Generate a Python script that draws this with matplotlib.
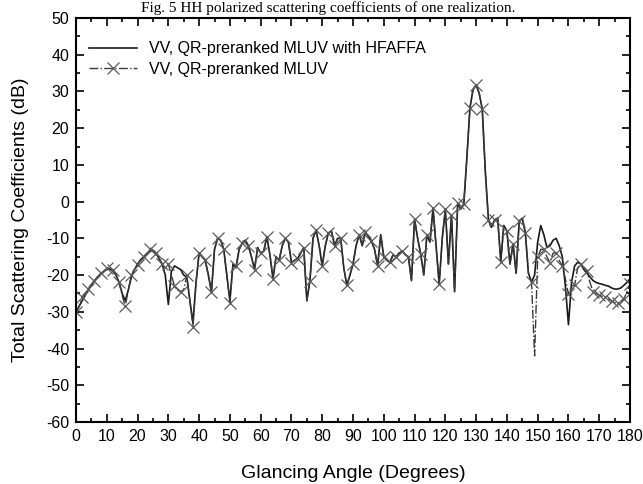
import numpy as np
import matplotlib
matplotlib.use('Agg')
import matplotlib.pyplot as plt
from matplotlib.ticker import MultipleLocator

plt.rcParams['font.family'] = ['Liberation Sans', 'DejaVu Sans']
plt.rcParams['axes.unicode_minus'] = False

# glancing angle, 1 degree steps
angle = np.arange(0, 181)

# VV, QR-preranked MLUV with HFAFFA (solid)
hfaffa = [-30, -28.5, -27, -25.5, -24, -22.7, -21.5, -20.5, -19.7, -19,
          -18.5, -18.3, -18.8, -20, -22, -25, -27, -24, -20.5, -18.5,
          -17, -15.8, -15, -14.2, -13.5, -13.3, -14, -15.5, -17, -20,
          -28, -19, -17.5, -18, -18.5, -20, -20.5, -27, -33, -22,
          -14, -15, -16, -20, -24.5, -13, -10, -10.5, -13, -20,
          -27, -17, -18, -13, -11.3, -10.5, -12, -15, -18.5, -12.5,
          -14, -13.5, -9.5, -14.5, -21, -15, -16, -12, -10, -11,
          -16.5, -16, -15.5, -14, -12.5, -27, -21.5, -10, -7.7, -12,
          -17.5, -12, -8.5, -8, -12, -10, -10, -18, -22.8, -20,
          -17, -12, -9, -12, -8.3, -9.5, -10.7, -13, -17.5, -9,
          -15, -16, -16.5, -14.5, -15, -14, -13.5, -14.5, -15, -21.5,
          -4.8, -10, -14.3, -20, -9, -11, -1.8, -12, -22.5, -10,
          -2, -17, -3.7, -24.5, -0.5, -2, -0.6, 12, 25.6, 30.5,
          31.8, 29.5, 25.2, 8, -5, -7, -5, -4.5, -16.3, -6.5,
          -8, -17, -11.5, -19.5, -5.3, -4.5, -8.6, -19.5, -21.9, -20,
          -11, -6.5, -9, -12.5, -12, -10.5, -10, -12, -15, -23,
          -33.5, -22, -17.5, -16.5, -17, -18.5, -19.5, -20.5, -21.5, -22,
          -22.3, -22.5, -22.8, -23, -23.5, -23.8, -23.8, -23.5, -22.8, -22,
          -21]

# VV, QR-preranked MLUV (dash-dot, markers every 2 degrees)
mluv = [-30, -28.5, -26, -25, -23.7, -22.5, -21.5, -20.5, -19.5, -19,
        -18, -18.3, -18.5, -20, -22, -25.5, -28.5, -24, -20, -18.5,
        -17.3, -16, -15.2, -14.2, -13, -13.3, -14, -15.5, -17, -18,
        -17, -20, -23, -24, -24.5, -24, -20, -27, -34, -22,
        -13.9, -15, -16, -20, -24.6, -13, -10, -10.5, -13, -20,
        -27.5, -17, -17.5, -13, -11.3, -10.5, -12, -15, -18.5, -12.5,
        -14, -13.5, -9.5, -14.5, -21, -15, -16, -12, -10, -11,
        -16.6, -16, -15.5, -14, -12.5, -27, -21.5, -10, -7.7, -12,
        -17.5, -12, -8.5, -8, -12, -10, -10, -18, -22.8, -20,
        -17, -12, -9, -12, -8.3, -9.5, -10.7, -13, -17.5, -9,
        -15, -16, -16.5, -14.5, -15, -14, -13.5, -14.5, -15, -21.5,
        -4.8, -10, -14.3, -20, -9, -11, -1.8, -12, -22.5, -10,
        -2, -17, -3.7, -24.5, -0.5, -2, -0.6, 12, 25.6, 30.5,
        31.8, 29.5, 25.2, 8, -5, -7, -5, -4.5, -16.3, -6.5,
        -8, -17, -11.5, -19.5, -5.3, -4.5, -8.6, -19.5, -21.9, -42,
        -15.2, -13, -13, -15, -16.6, -14, -14, -16, -17.5, -21,
        -25.2, -23, -22.7, -18, -17, -18, -18.9, -22, -24.6, -25,
        -25.5, -25.8, -26, -26.5, -27, -27.5, -27.7, -27.2, -26.6, -24.5,
        -22.5]

fig = plt.figure(figsize=(6.43, 4.84), dpi=100)
ax = fig.add_axes([0.1182, 0.1281, 0.8616, 0.8347])

ax.plot(angle, hfaffa, '-', color='#1a1a1a', lw=1.2,
        label='VV, QR-preranked MLUV with HFAFFA')
ax.plot(angle, mluv, '-.', color='#3a3a3a', lw=1.0, marker='x', markevery=2,
        markersize=8.5, markeredgewidth=0.9, markeredgecolor='#5a5a5a',
        label='VV, QR-preranked MLUV')

ax.set_xlim(0, 180)
ax.set_ylim(-60, 50)
ax.xaxis.set_major_locator(MultipleLocator(10))
ax.xaxis.set_minor_locator(MultipleLocator(5))
ax.yaxis.set_major_locator(MultipleLocator(10))
ax.yaxis.set_minor_locator(MultipleLocator(5))
ax.tick_params(which='both', direction='in', top=True, right=True, labelsize=11.5, width=1.2)
ax.tick_params(which='major', length=6, pad=5)
ax.tick_params(which='minor', length=3)
for s in ax.spines.values():
    s.set_linewidth(1.5)

ax.set_xlabel('Glancing Angle (Degrees)', fontsize=14, labelpad=15)
ax.set_ylabel('Total Scattering Coefficients (dB)', fontsize=14, labelpad=12)

ax.legend(loc='upper left', frameon=False, fontsize=11.5, handlelength=3,
          borderaxespad=0.4, labelspacing=0.35, bbox_to_anchor=(0.0, 0.974))

fig.text(0.51, 1 - 12 / 484, 'Fig. 5 HH polarized scattering coefficients of one realization.',
         family=['Liberation Serif', 'DejaVu Serif'], fontsize=11, ha='center', va='baseline')

fig.savefig('out.png', dpi=100)
